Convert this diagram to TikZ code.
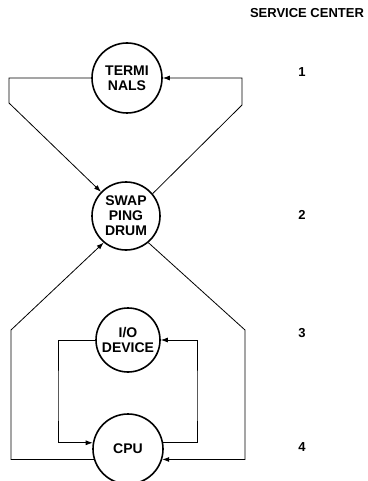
\documentclass[tikz,border=0pt]{standalone}
\usepackage{fontspec}
\setmainfont{Liberation Sans}
\usetikzlibrary{arrows.meta}
\tikzstyle{station}=[circle,draw,line width=1.6pt,minimum size=70pt,inner sep=0pt,align=center,font=\bfseries\fontsize{14}{15}\selectfont]
\tikzstyle{label}=[font=\bfseries\fontsize{13}{14}\selectfont]
\tikzstyle{flow}=[line width=0.8pt,-{Latex[length=7pt,width=5pt]}]

\begin{document}
\begin{tikzpicture}[x=1pt,y=-1pt]
    \useasboundingbox (0,0) rectangle (367,481);
    \node[station] (term) at (127,78)  {TERMI\\NALS};
    \node[station,minimum size=68pt] (swap) at (126,216) {SWAP\\PING\\DRUM};
    \node[station,minimum size=64pt] (io) at (128,340) {I/O\\DEVICE};
    \node[station] (cpu) at (128,449) {CPU};

    \node[label] (head) at (307,13) {SERVICE CENTER};
    \node[label] (s1) at (302,72)  {1};
    \node[label] (s2) at (302,215) {2};
    \node[label] (s3) at (302,333) {3};
    \node[label] (s4) at (302,447) {4};

    \coordinate (a1) at (9,103);
    \coordinate (a2) at (242,105);
    \coordinate (a3) at (11,330);
    \coordinate (a4) at (245,330);
    \coordinate (a5) at (58,400);
    \coordinate (a6) at (197,400);

    \draw[flow] (term.west) -| (a1) -- (swap.136);
    \draw[flow] (swap.40) -- (a2) |- (term.east);
    \draw[flow] (cpu.197) -| (a3) -- (swap.230);
    \draw[flow] (swap.310) -- (a4) |- (cpu.-17);
    \draw[flow] (io.west) -| (a5) |- (cpu.170);
    \draw[flow] (cpu.10) -| (a6) |- (io.east);
\end{tikzpicture}
\end{document}
